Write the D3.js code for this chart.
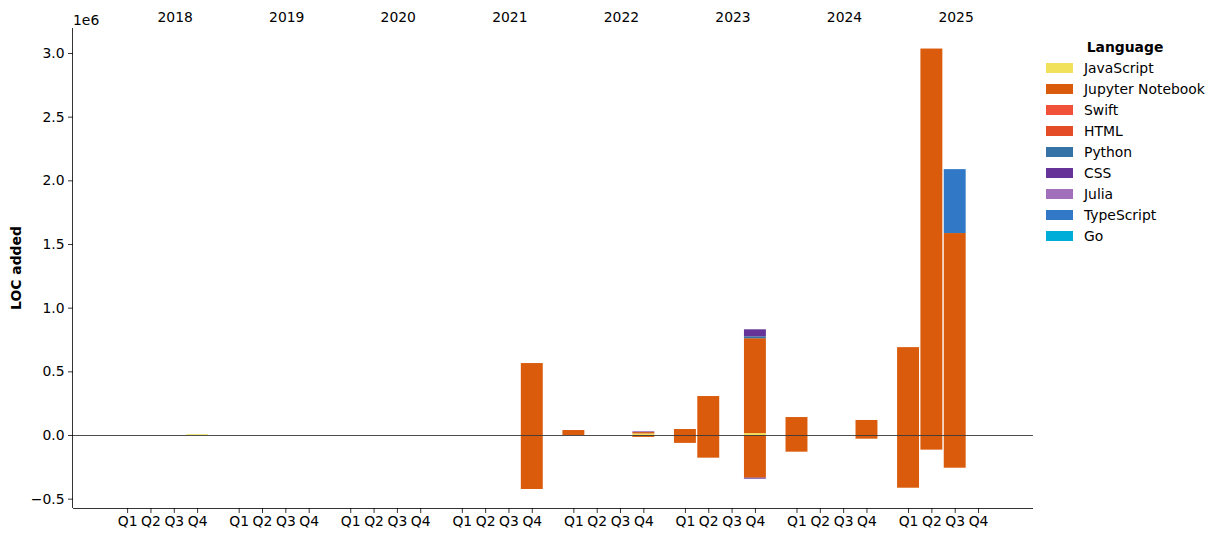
<!DOCTYPE html>
<html>
<head>
<meta charset="utf-8">
<script src="https://cdn.jsdelivr.net/npm/d3@7"></script>
<style>
  html, body { margin: 0; padding: 0; background: #fff; }
  svg { display: block; font-family: "DejaVu Sans", sans-serif; }
</style>
</head>
<body>
<svg id="chart" width="1220" height="542"></svg>
<script>
// ---- Data ----
const years = ["2018", "2019", "2020", "2021", "2022", "2023", "2024", "2025"];
const quarters = ["Q1", "Q2", "Q3", "Q4"];
const languages = ["JavaScript", "Jupyter Notebook", "Swift", "HTML", "Python", "CSS", "Julia", "TypeScript", "Go"];
const colors = ["#f1e05a", "#da5b0b", "#f05138", "#e34c26", "#3572a5", "#663399", "#a270ba", "#3178c6", "#00add8"];
const yTicks = [-0.5e6, 0, 0.5e6, 1.0e6, 1.5e6, 2.0e6, 2.5e6, 3.0e6];

// LOC added (positive) per quarter, 2018Q1 .. 2025Q4 (32 quarters)
const jsAdded       = [0,0,0,6000, 0,0,0,0, 0,0,0,0, 0,0,0,0, 0,0,0,12000, 0,0,0,15000, 0,0,0,0, 0,0,0,0];
const jupyterAdded  = [0,0,0,0, 0,0,0,0, 0,0,0,0, 0,0,0,565000, 39000,0,0,12000, 47000,306000,0,745000, 141000,0,0,118000, 690000,3035000,1586000,0];
const pythonAdded   = [0,0,0,0, 0,0,0,0, 0,0,0,0, 0,0,0,0, 0,0,0,0, 0,0,0,15000, 0,0,0,0, 0,0,0,0];
const cssAdded      = [0,0,0,0, 0,0,0,0, 0,0,0,0, 0,0,0,0, 0,0,0,0, 0,0,0,55000, 0,0,0,0, 0,0,0,0];
const juliaAdded    = [0,0,0,0, 0,0,0,0, 0,0,0,0, 0,0,0,0, 0,0,0,6000, 0,0,0,0, 0,0,0,0, 0,0,0,0];
const tsAdded       = [0,0,0,0, 0,0,0,0, 0,0,0,0, 0,0,0,0, 0,0,0,0, 0,0,0,0, 0,0,0,0, 0,0,502000,0];
// LOC removed (negative)
const jupyterRemoved = [0,0,0,0, 0,0,0,0, 0,0,0,0, 0,0,0,-424000, 0,0,0,-15000, -62000,-178000,0,-335000, -131000,0,0,-29000, -414000,-115000,-257000,0];
const cssRemoved     = [0,0,0,0, 0,0,0,0, 0,0,0,0, 0,0,0,0, 0,0,0,0, 0,0,0,-8000, 0,0,0,0, 0,0,0,0];

const zeros = new Array(32).fill(0);
const seriesAdded = {
  "JavaScript": jsAdded, "Jupyter Notebook": jupyterAdded, "Swift": zeros, "HTML": zeros,
  "Python": pythonAdded, "CSS": cssAdded, "Julia": juliaAdded, "TypeScript": tsAdded, "Go": zeros
};
const seriesRemoved = {
  "JavaScript": zeros, "Jupyter Notebook": jupyterRemoved, "Swift": zeros, "HTML": zeros,
  "Python": zeros, "CSS": cssRemoved, "Julia": zeros, "TypeScript": zeros, "Go": zeros
};

// ---- Layout ----
const FS = 13.9;
const svg = d3.select("#chart");
const L = 73, R = 1033, T = 28, B = 508;
const yearStep = 4.782;   // quarter units between years
const pos = (yi, qi) => yi * yearStep + qi;

const x = d3.scaleLinear().domain([-2.32, 38.83]).range([L, R]);
const y = d3.scaleLinear().domain([-0.5733e6, 3.1963e6]).range([B, T]);
const barW = 0.94;

// ---- Build stacked rectangles ----
const rects = [];
years.forEach((yr, yi) => {
  quarters.forEach((q, qi) => {
    const idx = yi * 4 + qi;
    let posAcc = 0, negAcc = 0;
    languages.forEach((lang, li) => {
      const a = seriesAdded[lang][idx];
      if (a > 0) { rects.push({ p: pos(yi, qi), y0: posAcc, y1: posAcc + a, color: colors[li] }); posAcc += a; }
      const r = seriesRemoved[lang][idx];
      if (r < 0) { rects.push({ p: pos(yi, qi), y0: negAcc + r, y1: negAcc, color: colors[li] }); negAcc += r; }
    });
  });
});

svg.append("g").selectAll("rect").data(rects).join("rect")
  .attr("x", d => x(d.p - barW / 2))
  .attr("width", d => x(d.p + barW / 2) - x(d.p - barW / 2))
  .attr("y", d => y(d.y1))
  .attr("height", d => Math.max(1, y(d.y0) - y(d.y1)))
  .attr("fill", d => d.color);

// zero line
const y0px = Math.round(y(0)) + 0.5;
svg.append("line")
  .attr("x1", L).attr("x2", R).attr("y1", y0px).attr("y2", y0px)
  .attr("stroke", "#3a3a3a").attr("stroke-width", 0.9);

// ---- Axes ----
const xTickData = [];
years.forEach((yr, yi) => quarters.forEach((q, qi) => xTickData.push({ p: pos(yi, qi), label: q })));

const xAxis = d3.axisBottom(x)
  .tickValues(xTickData.map(d => d.p))
  .tickFormat((d, i) => xTickData[i].label)
  .tickSize(5).tickPadding(3.5);
const gx = svg.append("g").attr("transform", `translate(0,${B})`).call(xAxis);
gx.select(".domain").attr("d", `M${L},0.5H${R}`).attr("stroke", "#000").attr("stroke-width", 0.8);

const yAxis = d3.axisLeft(y).tickValues(yTicks)
  .tickFormat(d => d3.format(".1f")(d / 1e6).replace("-", "\u2212"))
  .tickSize(5).tickPadding(3.5);
const gy = svg.append("g").attr("transform", `translate(${L},0)`).call(yAxis);
gy.select(".domain").attr("d", `M-0.5,${T}V${B}`).attr("stroke", "#000").attr("stroke-width", 0.8);

[gx, gy].forEach(g => {
  g.selectAll(".tick line").attr("stroke", "#000").attr("stroke-width", 0.8);
  g.selectAll(".tick text").attr("font-size", FS).attr("fill", "#000").attr("font-family", "DejaVu Sans");
});

// offset text
svg.append("text").attr("x", L).attr("y", 25).attr("font-size", FS).text("1e6");

// year labels on top
svg.append("g").selectAll("text").data(years).join("text")
  .attr("x", (d, i) => x(i * yearStep + 2.06))
  .attr("y", 22)
  .attr("text-anchor", "middle")
  .attr("font-size", FS)
  .text(d => d);

// y-axis label
svg.append("text")
  .attr("transform", `translate(21,${(T + B) / 2}) rotate(-90)`)
  .attr("text-anchor", "middle")
  .attr("font-size", FS)
  .attr("font-weight", "bold")
  .text("LOC added");

// ---- Legend ----
const lg = svg.append("g");
lg.append("text").attr("x", 1125).attr("y", 52).attr("text-anchor", "middle")
  .attr("font-size", FS).attr("font-weight", "bold").text("Language");
const items = lg.selectAll("g.item").data(languages).join("g").attr("class", "item")
  .attr("transform", (d, i) => `translate(0,${68 + i * 21})`);
items.append("rect").attr("x", 1046).attr("y", -5).attr("width", 27).attr("height", 10)
  .attr("fill", (d, i) => colors[i]);
items.append("text").attr("x", 1084).attr("y", 5).attr("font-size", FS).text(d => d);
</script>
</body>
</html>
